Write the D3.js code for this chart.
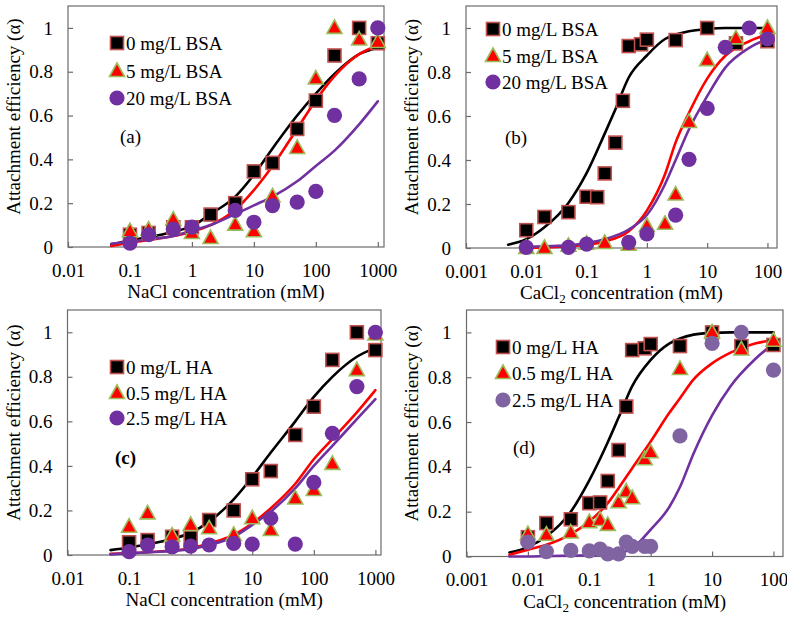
<!DOCTYPE html>
<html><head><meta charset="utf-8">
<script src="https://cdn.jsdelivr.net/npm/d3@7"></script>
<style>
body{margin:0;background:#fff;}
svg{display:block;}
svg text{font-family:"Liberation Serif","Times New Roman",serif !important;}
</style></head>
<body><svg id="c" width="787" height="619"></svg>
<script>
// ---------- DATA ----------
const yTicks = [0, 0.2, 0.4, 0.6, 0.8, 1];
const yTickLabels = ["0", "0.2", "0.4", "0.6", "0.8", "1"];
const xTicksNaCl = [0.01, 0.1, 1, 10, 100, 1000];
const xTickLabelsNaCl = ["0.01", "0.1", "1", "10", "100", "1000"];
const xTicksCaCl = [0.001, 0.01, 0.1, 1, 10, 100];
const xTickLabelsCaCl = ["0.001", "0.01", "0.1", "1", "10", "100"];

// Panel (a) NaCl, BSA
const xA = [0.1, 0.2, 0.5, 1, 2, 5, 10, 20, 50, 100, 200, 500, 1000];
const aBSA0 = [0.056, 0.064, 0.09, 0.09, 0.148, 0.2, 0.345, 0.384, 0.539, 0.668, 0.874, 1.0, 0.93];
const aBSA5 = [0.072, 0.079, 0.125, 0.064, 0.041, 0.102, 0.072, 0.231, 0.452, 0.769, 1.0, 0.947, 0.936];
const xA20 = [0.1, 0.2, 0.5, 1, 5, 10, 20, 50, 100, 200, 500, 1000];
const aBSA20 = [0.018, 0.056, 0.082, 0.091, 0.167, 0.113, 0.189, 0.205, 0.254, 0.601, 0.767, 1.0];
const fitXA = [0.05, 0.1, 0.2, 0.5, 1, 2, 5, 10, 20, 50, 100, 200, 500, 1000];
const aFit0 = [0.012, 0.03, 0.045, 0.07, 0.095, 0.15, 0.23, 0.33, 0.45, 0.60, 0.70, 0.79, 0.88, 0.91];
const aFit5 = [0.005, 0.02, 0.032, 0.05, 0.07, 0.10, 0.17, 0.26, 0.37, 0.54, 0.67, 0.78, 0.88, 0.92];
const aFit20 = [0.015, 0.025, 0.035, 0.05, 0.075, 0.10, 0.15, 0.19, 0.23, 0.30, 0.37, 0.44, 0.56, 0.665];

// Panel (b) CaCl2, BSA
const xB0 = [0.01, 0.02, 0.05, 0.1, 0.15, 0.2, 0.3, 0.4, 0.5, 0.8, 1, 3, 10, 30, 100];
const bBSA0 = [0.081, 0.141, 0.163, 0.233, 0.231, 0.339, 0.479, 0.669, 0.918, 0.926, 0.947, 0.945, 1.0, 0.93, 0.94];
const xB5 = [0.01, 0.02, 0.05, 0.1, 0.2, 0.5, 1, 2, 3, 5, 10, 30, 100];
const bBSA5 = [0.0, 0.0, 0.01, 0.02, 0.023, 0.015, 0.1, 0.11, 0.243, 0.573, 0.854, 0.953, 1.0];
const xB20 = [0.01, 0.05, 0.1, 0.5, 1, 3, 5, 10, 20, 50, 100];
const bBSA20 = [0.003, 0.003, 0.018, 0.026, 0.064, 0.149, 0.403, 0.635, 0.912, 1.0, 0.95];
const fitXB = [0.005, 0.01, 0.02, 0.05, 0.1, 0.2, 0.3, 0.5, 1, 2, 3, 5, 10, 20, 50, 100];
const bFit0 = [0.015, 0.04, 0.094, 0.205, 0.34, 0.52, 0.63, 0.775, 0.875, 0.95, 0.97, 0.985, 0.995, 1.0, 1.0, 1.0];
const fitXB2 = [0.01, 0.02, 0.05, 0.1, 0.2, 0.5, 1, 2, 3, 5, 10, 20, 50, 100];
const bFit5 = [0.0, 0.003, 0.008, 0.015, 0.03, 0.076, 0.17, 0.335, 0.48, 0.615, 0.77, 0.874, 0.94, 0.97];
const bFit20 = [0.005, 0.008, 0.012, 0.023, 0.04, 0.084, 0.15, 0.29, 0.40, 0.54, 0.69, 0.82, 0.91, 0.95];

// Panel (c) NaCl, HA
const xC = [0.1, 0.2, 0.5, 1, 2, 5, 10, 20, 50, 100, 200, 500, 1000];
const cHA0 = [0.057, 0.067, 0.082, 0.079, 0.157, 0.2, 0.34, 0.377, 0.539, 0.666, 0.876, 1.0, 0.92];
const cHA05 = [0.127, 0.187, 0.087, 0.135, 0.12, 0.09, 0.165, 0.112, 0.254, 0.292, 0.409, 0.83, 0.99];
const cHA25 = [0.015, 0.045, 0.037, 0.04, 0.045, 0.052, 0.049, 0.165, 0.049, 0.326, 0.546, 0.756, 1.0];
const fitXC = [0.05, 0.1, 0.2, 0.5, 1, 2, 5, 10, 20, 50, 100, 200, 500, 1000];
const cFit0 = [0.022, 0.034, 0.048, 0.072, 0.1, 0.15, 0.25, 0.35, 0.46, 0.6, 0.71, 0.8, 0.89, 0.93];
const cFit05 = [0.005, 0.008, 0.012, 0.02, 0.03, 0.052, 0.09, 0.142, 0.21, 0.32, 0.43, 0.52, 0.64, 0.74];
const cFit25 = [0.003, 0.008, 0.012, 0.018, 0.027, 0.045, 0.082, 0.135, 0.195, 0.3, 0.4, 0.49, 0.61, 0.70];

// Panel (d) CaCl2, HA
const xD = [0.01, 0.02, 0.05, 0.1, 0.15, 0.2, 0.3, 0.4, 0.5, 0.8, 1, 3, 10, 30, 100];
const dHA0 = [0.086, 0.149, 0.166, 0.238, 0.241, 0.337, 0.475, 0.669, 0.921, 0.929, 0.948, 0.939, 1.0, 0.939, 0.944];
const dHA05 = [0.1, 0.097, 0.107, 0.153, 0.163, 0.141, 0.242, 0.29, 0.26, 0.434, 0.465, 0.837, 1.0, 0.924, 0.963];
const dHA25 = [0.064, 0.022, 0.027, 0.025, 0.033, 0.012, 0.012, 0.064, 0.045, 0.045, 0.045, 0.538, 0.951, 1.0, 0.832];
const fitXD = [0.005, 0.01, 0.02, 0.05, 0.1, 0.2, 0.3, 0.5, 1, 2, 3, 5, 10, 20, 50, 100];
const dFit0 = [0.018, 0.042, 0.09, 0.2, 0.34, 0.51, 0.62, 0.76, 0.877, 0.95, 0.973, 0.99, 0.998, 1.0, 1.0, 1.0];
const dFit05 = [0.007, 0.03, 0.052, 0.1, 0.156, 0.238, 0.305, 0.394, 0.513, 0.64, 0.706, 0.79, 0.862, 0.91, 0.95, 0.966];
const dFit25 = [0.0, 0.0, 0.002, 0.004, 0.005, 0.01, 0.015, 0.037, 0.12, 0.22, 0.31, 0.46, 0.63, 0.76, 0.88, 0.95];

const legendBSA = ["0 mg/L BSA", "5 mg/L BSA", "20 mg/L BSA"];
const legendHA = ["0 mg/L HA", "0.5 mg/L HA", "2.5 mg/L HA"];
const panelLabels = ["(a)", "(b)", "(c)", "(d)"];
const yTitle = "Attachment efficiency (α)";

// ---------- STYLE ----------
const FONT = 19;
const colBlack = "#000", colRed = "#ff0000", colPurple = "#7030a0", colPurpleLight = "#8064a2";
const sqStroke = "#c0504d", triStroke = "#9bbb59";

const panels = [
  {l:68, t:6, r:384, b:247, xd:[0.01,1259], xt:xTicksNaCl, xl:xTickLabelsNaCl, cacl:false,
   sq:[xA,aBSA0], tri:[xA,aBSA5], cir:[xA20,aBSA20], circ:colPurple,
   fits:[[fitXA,aFit0,colBlack],[fitXA,aFit5,colRed],[fitXA,aFit20,colPurple]],
   leg:legendBSA, legX:117, legY:[43,71,98], lab:panelLabels[0], labX:120, labY:143, bold:false, ytX:14},
  {l:466, t:6, r:777, b:248, xd:[0.001,144], xt:xTicksCaCl, xl:xTickLabelsCaCl, cacl:true,
   sq:[xB0,bBSA0], tri:[xB5,bBSA5], cir:[xB20,bBSA20], circ:colPurple,
   fits:[[fitXB,bFit0,colBlack],[fitXB2,bFit5,colRed],[fitXB2,bFit20,colPurple]],
   leg:legendBSA, legX:493, legY:[29,56,82], lab:panelLabels[1], labX:505, labY:144, bold:false, ytX:412},
  {l:67.5, t:310, r:381, b:555, xd:[0.01,1233], xt:xTicksNaCl, xl:xTickLabelsNaCl, cacl:false,
   sq:[xC,cHA0], tri:[xC,cHA05], cir:[xC,cHA25], circ:colPurple,
   fits:[[fitXC,cFit0,colBlack],[fitXC,cFit05,colRed],[fitXC,cFit25,colPurple]],
   leg:legendHA, legX:117, legY:[367,393,418], lab:panelLabels[2], labX:115, labY:464, bold:true, ytX:14},
  {l:466.5, t:310, r:783, b:556.5, xd:[0.001,143], xt:xTicksCaCl, xl:xTickLabelsCaCl, cacl:true,
   sq:[xD,dHA0], tri:[xD,dHA05], cir:[xD,dHA25], circ:colPurpleLight,
   fits:[[fitXD,dFit0,colBlack],[fitXD,dFit05,colRed],[fitXD,dFit25,colPurple]],
   leg:legendHA, legX:503, legY:[347,373,400], lab:panelLabels[3], labX:513, labY:454, bold:false, ytX:412}
];

const svg = d3.select("#c");
const triPath = "M0,-8L7.5,5.5L-7.5,5.5Z";

function drawSquare(g, x, y){
  g.append("rect").attr("x", x-6.5).attr("y", y-6.5).attr("width", 13).attr("height", 13)
   .attr("fill", "#000").attr("stroke", sqStroke).attr("stroke-width", 1.6);
}
function drawTri(g, x, y){
  g.append("path").attr("d", triPath).attr("transform", `translate(${x},${y})`)
   .attr("fill", colRed).attr("stroke", triStroke).attr("stroke-width", 1.6).attr("stroke-linejoin","miter");
}
function drawCircle(g, x, y, c){
  g.append("circle").attr("cx", x).attr("cy", y).attr("r", 7.6).attr("fill", c);
}

panels.forEach(p => {
  const g = svg.append("g");
  const x = d3.scaleLog().domain(p.xd).range([p.l, p.r]);
  const y = d3.scaleLinear().domain([0, 1.1]).range([p.b, p.t]);

  // frame
  g.append("rect").attr("x", p.l).attr("y", p.t).attr("width", p.r - p.l).attr("height", p.b - p.t)
    .attr("fill", "none").attr("stroke", "#6b6b6b").attr("stroke-width", 1.2);

  // axes
  const xa = g.append("g").attr("transform", `translate(0,${p.b})`)
    .call(d3.axisBottom(x).tickValues(p.xt).tickFormat((d,i) => p.xl[i]).tickSize(-5).tickPadding(16.5));
  const ya = g.append("g").attr("transform", `translate(${p.l},0)`)
    .call(d3.axisLeft(y).tickValues(yTicks).tickFormat((d,i) => yTickLabels[i]).tickSize(-5).tickPadding(15));
  [xa, ya].forEach(a => {
    a.attr("font-family", null).attr("font-size", null);
    a.select(".domain").remove();
    a.selectAll("line").attr("stroke", "#6b6b6b").attr("stroke-width", 1.2);
    a.selectAll("text").attr("font-size", FONT).attr("fill", "#000");
  });

  // fit curves
  const line = d3.line().x(d => x(d[0])).y(d => y(d[1])).curve(d3.curveMonotoneX);
  p.fits.forEach(f => {
    const pts = f[0].map((v, i) => [v, f[1][i]]);
    g.append("path").attr("d", line(pts)).attr("fill", "none").attr("stroke", f[2])
      .attr("stroke-width", 2.6).attr("stroke-linecap", "round");
  });

  // markers
  p.sq[0].forEach((v, i) => drawSquare(g, x(v), y(p.sq[1][i])));
  p.tri[0].forEach((v, i) => drawTri(g, x(v), y(p.tri[1][i])));
  p.cir[0].forEach((v, i) => drawCircle(g, x(v), y(p.cir[1][i]), p.circ));

  // legend
  drawSquare(g, p.legX, p.legY[0]);
  drawTri(g, p.legX, p.legY[1]);
  drawCircle(g, p.legX, p.legY[2], p.circ);
  p.leg.forEach((t, i) => {
    g.append("text").attr("x", p.legX + 9).attr("y", p.legY[i] + 6.5).attr("font-size", FONT).text(t);
  });

  // panel label
  g.append("text").attr("x", p.labX).attr("y", p.labY).attr("font-size", FONT)
    .attr("font-weight", p.bold ? "bold" : "normal").text(p.lab);

  // x title
  const xt = g.append("text").attr("x", (p.l + p.r) / 2).attr("y", p.b + 51)
    .attr("text-anchor", "middle").attr("font-size", FONT);
  if (p.cacl) {
    xt.append("tspan").text("CaCl");
    xt.append("tspan").attr("font-size", 13).attr("dy", 4).text("2");
    xt.append("tspan").attr("dy", -4).text(" concentration (mM)");
  } else {
    xt.text("NaCl concentration (mM)");
  }

  // y title
  const cy = (p.t + p.b) / 2 - 10;
  g.append("text").attr("transform", `translate(${p.ytX + 6},${cy}) rotate(-90)`)
    .attr("text-anchor", "middle").attr("font-size", FONT).text(yTitle);
});
</script>
</body></html>
